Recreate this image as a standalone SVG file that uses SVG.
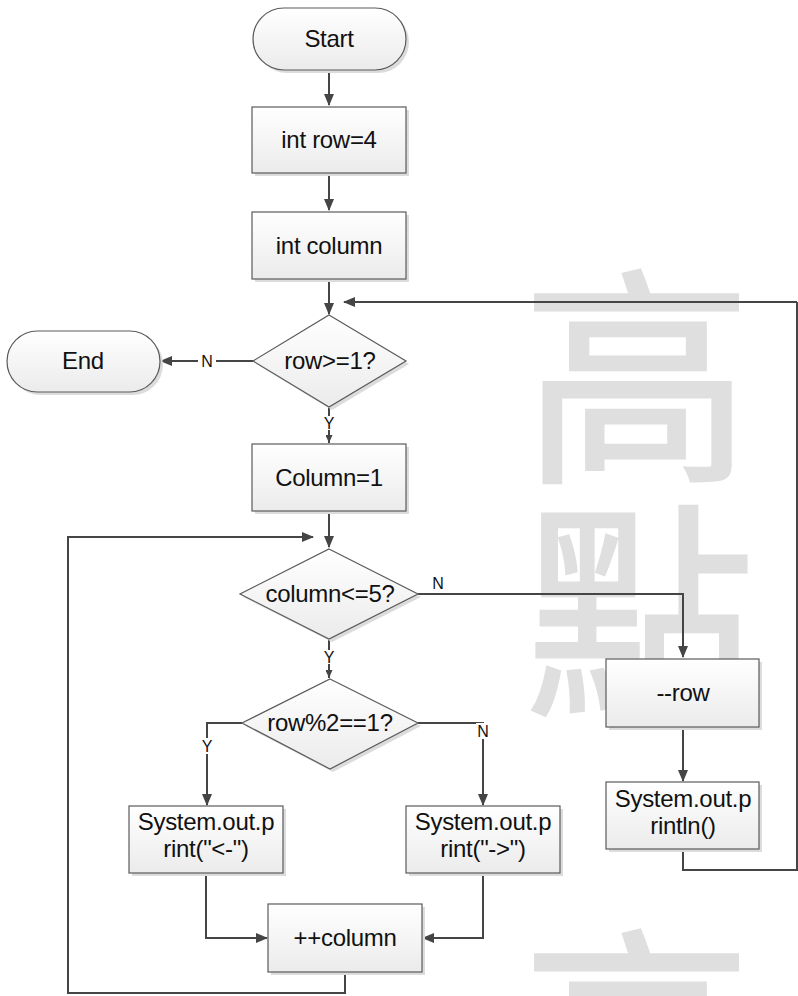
<svg xmlns="http://www.w3.org/2000/svg" width="798" height="996" viewBox="0 0 798 996">
<defs>
<linearGradient id="g" x1="0" y1="0" x2="0" y2="1">
<stop offset="0" stop-color="#ffffff"/>
<stop offset="1" stop-color="#ebebeb"/>
</linearGradient>
<marker id="ah" markerWidth="12" markerHeight="10" refX="11" refY="5" orient="auto" markerUnits="userSpaceOnUse">
<path d="M0,0 L12,5 L0,10 Z" fill="#454545"/>
</marker>
<marker id="ahs" markerWidth="8" markerHeight="7" refX="8" refY="3.5" orient="auto" markerUnits="userSpaceOnUse">
<path d="M0,0 L8,3.5 L0,7 Z" fill="#454545"/>
</marker>
</defs>
<style>
.shape{fill:url(#g);stroke:#5a5a5a;stroke-width:1.2}
.shadow{fill:#dcdcdc}
.t{font-family:"Liberation Sans",Arial,sans-serif;font-size:24px;letter-spacing:-0.3px;fill:#111;text-anchor:middle}
.lb{font-family:"Liberation Sans",Arial,sans-serif;font-size:16px;fill:#111;text-anchor:middle}
.c{fill:none;stroke:#454545;stroke-width:2}
.wm{font-family:"Noto Sans CJK TC","Noto Sans CJK SC",sans-serif;font-size:230px;font-weight:400;fill:#dfdfdf;stroke:#dfdfdf;stroke-width:3;text-anchor:middle}
</style>
<rect width="798" height="996" fill="#ffffff"/>
<g id="watermark">
<text class="wm" x="637" y="464">高</text>
<text class="wm" x="640" y="699">點</text>
<text class="wm" x="637" y="1124">高</text>
</g>
<g id="connectors">
<path class="c" d="M329,70 V105" marker-end="url(#ah)"/>
<path class="c" d="M329,173 V210" marker-end="url(#ah)"/>
<path class="c" d="M329,279 V314" marker-end="url(#ah)"/>
<path class="c" d="M797,302 H344" marker-end="url(#ah)"/>
<path class="c" d="M683,849 V870 H797 V302"/>
<path class="c" d="M253,361 H161" marker-end="url(#ah)"/>
<path class="c" d="M329,407 V443" marker-end="url(#ahs)"/>
<path class="c" d="M329,511 V547" marker-end="url(#ah)"/>
<path class="c" d="M345,972 V993 H68 V537 H313" marker-end="url(#ah)"/>
<path class="c" d="M418,594 H683 V657" marker-end="url(#ah)"/>
<path class="c" d="M683,727 V781" marker-end="url(#ah)"/>
<path class="c" d="M329,639 V678" marker-end="url(#ahs)"/>
<path class="c" d="M242,723 H207 V805" marker-end="url(#ah)"/>
<path class="c" d="M418,723 H483 V805" marker-end="url(#ah)"/>
<path class="c" d="M206,873 V938 H267" marker-end="url(#ah)"/>
<path class="c" d="M483,873 V938 H423" marker-end="url(#ah)"/>
<rect x="198" y="353" width="18" height="16" fill="#fff"/>
<text class="lb" x="207" y="367">N</text>
<rect x="323" y="416" width="12" height="14" fill="#fff"/>
<text class="lb" x="329" y="429">Y</text>
<rect x="323" y="650" width="12" height="14" fill="#fff"/>
<text class="lb" x="329" y="663">Y</text>
<text class="lb" x="438" y="589">N</text>
<rect x="200" y="738" width="14" height="16" fill="#fff"/>
<text class="lb" x="207" y="752">Y</text>
<rect x="476" y="723" width="14" height="16" fill="#fff"/>
<text class="lb" x="483" y="737">N</text>
</g>
<g id="start">
<rect class="shadow" x="256" y="11" width="153" height="62" rx="31"/>
<rect class="shape" x="253" y="8" width="153" height="62" rx="31"/>
<text class="t" x="329" y="47">Start</text>
</g>
<g id="init_row">
<rect class="shadow" x="255" y="110" width="154" height="66"/>
<rect class="shape" x="252" y="107" width="154" height="66"/>
<text class="t" x="329" y="148">int row=4</text>
</g>
<g id="init_column">
<rect class="shadow" x="255" y="215" width="154" height="67"/>
<rect class="shape" x="252" y="212" width="154" height="67"/>
<text class="t" x="329" y="254">int column</text>
</g>
<g id="cond_row">
<polygon class="shadow" points="332,319 409,364 332,410 256,364"/>
<polygon class="shape" points="329,315 406,361 329,407 253,361"/>
<text class="t" x="330" y="369">row&gt;=1?</text>
</g>
<g id="end">
<rect class="shadow" x="10" y="334" width="153" height="61" rx="30.5"/>
<rect class="shape" x="7" y="331" width="153" height="61" rx="30.5"/>
<text class="t" x="83" y="369">End</text>
</g>
<g id="set_column">
<rect class="shadow" x="255" y="447" width="154" height="67"/>
<rect class="shape" x="252" y="444" width="154" height="67"/>
<text class="t" x="329" y="486">Column=1</text>
</g>
<g id="cond_column">
<polygon class="shadow" points="332,552 421,597 332,642 243,597"/>
<polygon class="shape" points="329,549 418,594 329,639 240,594"/>
<text class="t" x="330" y="602">column&lt;=5?</text>
</g>
<g id="dec_row">
<rect class="shadow" x="609" y="662" width="153" height="68"/>
<rect class="shape" x="606" y="659" width="153" height="68"/>
<text class="t" x="683" y="701">--row</text>
</g>
<g id="println">
<rect class="shadow" x="609" y="785" width="153" height="67"/>
<rect class="shape" x="606" y="782" width="153" height="67"/>
<text class="t" x="683" y="807">System.out.p</text>
<text class="t" x="683" y="834">rintln()</text>
</g>
<g id="cond_odd">
<polygon class="shadow" points="333,682 421,726 333,772 245,726"/>
<polygon class="shape" points="330,679 418,723 330,769 242,723"/>
<text class="t" x="330" y="731">row%2==1?</text>
</g>
<g id="print_left">
<rect class="shadow" x="132" y="809" width="154" height="67"/>
<rect class="shape" x="129" y="806" width="154" height="67"/>
<text class="t" x="206" y="830">System.out.p</text>
<text class="t" x="206" y="857">rint("&lt;-")</text>
</g>
<g id="print_right">
<rect class="shadow" x="409" y="809" width="154" height="67"/>
<rect class="shape" x="406" y="806" width="154" height="67"/>
<text class="t" x="483" y="830">System.out.p</text>
<text class="t" x="483" y="857">rint("-&gt;")</text>
</g>
<g id="inc_column">
<rect class="shadow" x="271" y="907" width="154" height="68"/>
<rect class="shape" x="268" y="904" width="154" height="68"/>
<text class="t" x="345" y="946">++column</text>
</g>
</svg>
